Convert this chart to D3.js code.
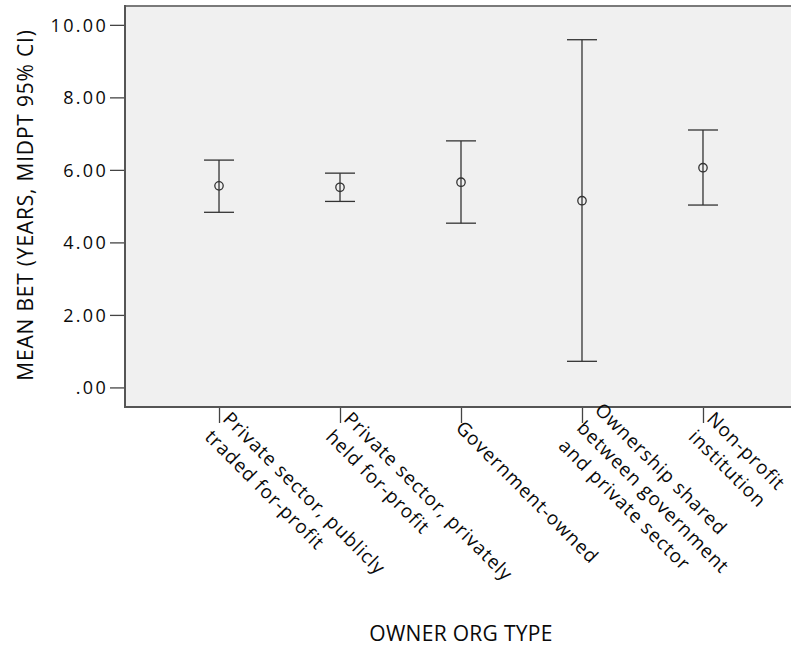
<!DOCTYPE html>
<html>
<head>
<meta charset="utf-8">
<script src="https://cdn.jsdelivr.net/npm/d3@7"></script>
<style>
  body { margin: 0; background: #fff; }
  svg text { font-family: "Open Sans", Lato, sans-serif; fill: #0a0a0a; }
</style>
</head>
<body>
<svg id="chart" width="791" height="646"></svg>
<script>
var categories = [
  ['Private sector, publicly', 'traded for-profit'],
  ['Private sector, privately', 'held for-profit'],
  ['Government-owned'],
  ['Ownership shared', 'between government', 'and private sector'],
  ['Non-profit', 'institution']
];
var means = [5.56, 5.52, 5.66, 5.15, 6.06];
var lower = [4.83, 5.13, 4.53, 0.72, 5.03];
var upper = [6.27, 5.91, 6.80, 9.59, 7.10];
var yTicks = [0, 2, 4, 6, 8, 10];

var svg, plotLeft, plotTop, plotRight, plotBottom, x, y, g;
svg = d3.select('#chart');
plotLeft = 125;
plotTop = 6;
plotRight = 797;
plotBottom = 407;

x = d3.scalePoint().domain(d3.range(categories.length)).range([plotLeft, plotRight]).padding(0.777);
y = d3.scaleLinear().domain([-0.54, 10.52]).range([plotBottom, plotTop]);

// plot background + frame
svg.append('rect').attr('x', plotLeft).attr('y', plotTop).attr('width', plotRight - plotLeft).attr('height', plotBottom - plotTop).style('fill', '#f0f0f0');
svg.append('line').attr('x1', plotLeft).attr('x2', plotRight).attr('y1', plotTop).attr('y2', plotTop).attr('stroke', '#7a7a7a').attr('stroke-width', 2);

// y axis
var yAxis = d3.axisLeft(y).tickValues(yTicks).tickSize(15).tickPadding(2).tickFormat(function(d) {
  return d === 0 ? '.00' : d3.format('.2f')(d);
});
g = svg.append('g').attr('transform', 'translate(' + plotLeft + ',0)').call(yAxis);
g.select('.domain').remove();
g.selectAll('.tick line').attr('stroke', '#444').attr('stroke-width', 1.3);
g.selectAll('.tick text').style('font-size', '18px').style('letter-spacing', '2.3px').attr('dy', '0.35em');
svg.append('line').attr('x1', plotLeft).attr('x2', plotLeft).attr('y1', plotTop - 1).attr('y2', plotBottom + 1).attr('stroke', '#555').attr('stroke-width', 2);

// x axis
var xAxis = d3.axisBottom(x).tickSize(16).tickFormat('');
g = svg.append('g').attr('transform', 'translate(0,' + plotBottom + ')').call(xAxis);
g.select('.domain').remove();
g.selectAll('.tick line').attr('stroke', '#444').attr('stroke-width', 1.3);
svg.append('line').attr('x1', plotLeft - 1).attr('x2', plotRight).attr('y1', plotBottom).attr('y2', plotBottom).attr('stroke', '#555').attr('stroke-width', 2);

// rotated category labels
var labels = svg.append('g').selectAll('g.lab').data(categories).enter().append('g').attr('class', 'lab').attr('transform', function(d, i) {
  return 'translate(' + x(i) + ',' + plotBottom + ') rotate(45)';
});
labels.each(function(lines) {
  var n = lines.length;
  d3.select(this).selectAll('text').data(lines).enter().append('text').attr('x', 11).attr('y', function(d, j) {
    return 20 + (j - (n - 1) / 2) * 25.5;
  }).style('font-size', '19px').style('letter-spacing', '0.9px').text(function(d) {
    return d;
  });
});

// error bars
var bars = svg.append('g').selectAll('g.bar').data(means).enter().append('g').attr('class', 'bar');
bars.append('line').attr('x1', function(d, i) { return x(i); }).attr('x2', function(d, i) { return x(i); })
  .attr('y1', function(d, i) { return y(lower[i]); }).attr('y2', function(d, i) { return y(upper[i]); })
  .attr('stroke', '#333').attr('stroke-width', 1.3);
bars.append('line').attr('x1', function(d, i) { return x(i) - 15; }).attr('x2', function(d, i) { return x(i) + 15; })
  .attr('y1', function(d, i) { return y(upper[i]); }).attr('y2', function(d, i) { return y(upper[i]); })
  .attr('stroke', '#333').attr('stroke-width', 1.3);
bars.append('line').attr('x1', function(d, i) { return x(i) - 15; }).attr('x2', function(d, i) { return x(i) + 15; })
  .attr('y1', function(d, i) { return y(lower[i]); }).attr('y2', function(d, i) { return y(lower[i]); })
  .attr('stroke', '#333').attr('stroke-width', 1.3);
bars.append('circle').attr('cx', function(d, i) { return x(i); }).attr('cy', function(d) { return y(d); }).attr('r', 4.2)
  .style('fill', 'none').attr('stroke', '#333').attr('stroke-width', 1.3);

// axis titles
svg.append('text').attr('transform', 'translate(33,205) rotate(-90)').attr('text-anchor', 'middle').style('font-size', '21px').style('letter-spacing', '0.8px').text('MEAN BET (YEARS, MIDPT 95% CI)');
svg.append('text').attr('x', (plotLeft + plotRight) / 2).attr('y', 641).attr('text-anchor', 'middle').style('font-size', '21px').style('letter-spacing', '0.3px').text('OWNER ORG TYPE');
</script>
</body>
</html>
